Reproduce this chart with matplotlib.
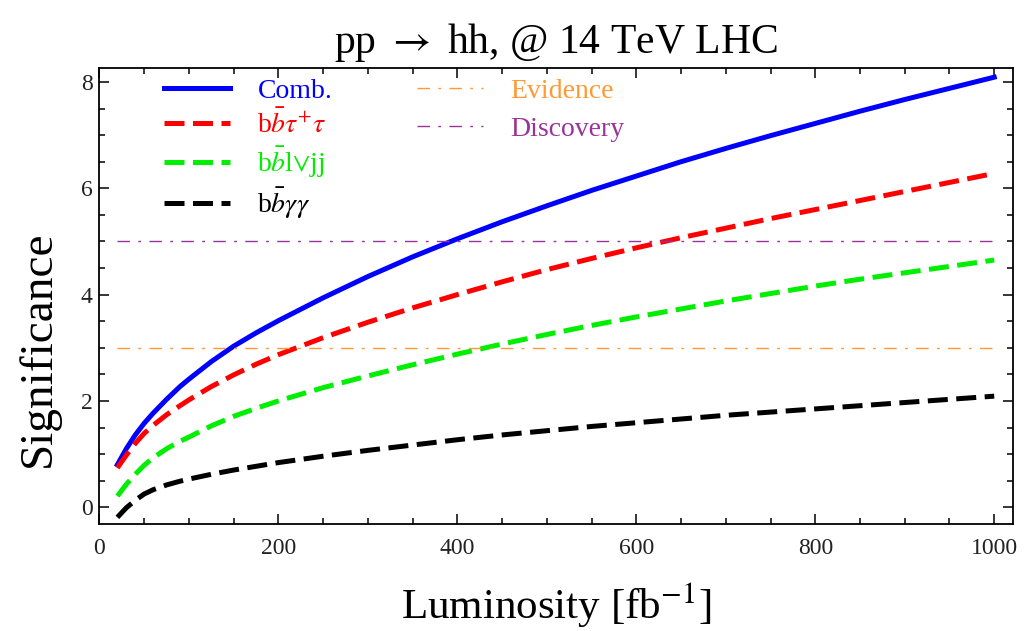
import matplotlib.pyplot as plt
from matplotlib.ticker import MultipleLocator

plt.rcParams['font.family'] = ['Liberation Serif', 'DejaVu Serif']
plt.rcParams['mathtext.fontset'] = 'stix'

# integrated luminosity [fb^-1] and significance of each channel
lumi = [20, 30, 40, 50, 60, 75, 90, 100, 125, 150, 175, 200, 250, 300, 350,
        400, 450, 500, 550, 600, 650, 700, 750, 800, 850, 900, 950, 1000]
sig_comb = [0.80, 1.10, 1.36, 1.58, 1.77, 2.03, 2.27, 2.41, 2.74, 3.03, 3.28,
            3.51, 3.94, 4.34, 4.71, 5.05, 5.37, 5.67, 5.96, 6.23, 6.50, 6.75,
            6.99, 7.22, 7.45, 7.67, 7.88, 8.09]
sig_tautau = [0.74, 0.98, 1.20, 1.39, 1.54, 1.74, 1.91, 2.02, 2.27, 2.49, 2.69,
              2.87, 3.19, 3.48, 3.75, 4.00, 4.24, 4.47, 4.68, 4.88, 5.07, 5.25,
              5.43, 5.60, 5.77, 5.94, 6.11, 6.28]
sig_lvjj = [0.21, 0.43, 0.62, 0.79, 0.93, 1.10, 1.24, 1.32, 1.53, 1.71, 1.86,
            2.00, 2.25, 2.47, 2.68, 2.88, 3.07, 3.25, 3.42, 3.58, 3.73, 3.88,
            4.02, 4.16, 4.29, 4.41, 4.53, 4.65]
sig_gamgam = [-0.19, -0.01, 0.13, 0.25, 0.33, 0.42, 0.49, 0.53, 0.62, 0.70, 0.77,
              0.84, 0.96, 1.07, 1.17, 1.27, 1.36, 1.44, 1.52, 1.59, 1.66, 1.73,
              1.79, 1.85, 1.91, 1.97, 2.03, 2.09]

evidence = 3
discovery = 5
line_range = [20, 1000]

fig = plt.figure(figsize=(10.34, 6.31), dpi=100)
ax = fig.add_axes([0.0962, 0.170, 0.8835, 0.722])

dash = (4.0, 1.7)
l_comb, = ax.plot(lumi, sig_comb, color='#0000ff', lw=3.6, label='Comb.')
l_tt, = ax.plot(lumi, sig_tautau, color='#ff0000', lw=3.6, dashes=dash,
                label=r'b$\bar{b}\tau^{+}\tau$')
l_lv, = ax.plot(lumi, sig_lvjj, color='#00ee00', lw=3.6, dashes=dash,
                label=r'b$\bar{b}$l$\vee$jj')
l_gg, = ax.plot(lumi, sig_gamgam, color='black', lw=3.6, dashes=dash,
                label=r'b$\bar{b}\gamma\gamma$')

dashdot = (0, (9, 6, 2, 6))
l_ev, = ax.plot(line_range, [evidence] * 2, color='#ff9933', lw=1.0,
                linestyle=dashdot, label='Evidence')
l_di, = ax.plot(line_range, [discovery] * 2, color='#993399', lw=1.0,
                linestyle=dashdot, label='Discovery')

ax.set_xlim(0, 1021)
ax.set_ylim(-0.31, 8.26)
ax.xaxis.set_major_locator(MultipleLocator(200))
ax.xaxis.set_minor_locator(MultipleLocator(50))
ax.yaxis.set_major_locator(MultipleLocator(2))
ax.yaxis.set_minor_locator(MultipleLocator(0.5))
ax.tick_params(which='both', direction='in', top=True, right=True,
               labelsize=17, labelcolor='#222222', width=1.1)
ax.tick_params(which='major', length=7.5)
ax.tick_params(which='minor', length=4.5)
ax.tick_params(axis='x', which='major', pad=10)
ax.tick_params(axis='y', which='major', pad=5)
for s in ax.spines.values():
    s.set_linewidth(1.3)

ax.set_title(r'pp $\rightarrow$ hh, @ 14 TeV LHC', fontsize=30, pad=11)
ax.set_xlabel(r'Luminosity [fb$^{-1}$]', fontsize=31, labelpad=16)
ax.set_ylabel('Significance', fontsize=34)
ax.yaxis.set_label_coords(-0.043, 0.385)

leg_opts = dict(loc='upper left', frameon=False, fontsize=20,
                labelcolor='linecolor', handlelength=2.35, handletextpad=1.0,
                labelspacing=0.2, borderpad=0, borderaxespad=0)
leg1 = ax.legend(handles=[l_comb, l_tt, l_lv, l_gg],
                 bbox_to_anchor=(0.071, 0.977), **leg_opts)
ax.add_artist(leg1)
ax.legend(handles=[l_ev, l_di], bbox_to_anchor=(0.348, 0.977),
          **dict(leg_opts, labelspacing=0.45))

fig.savefig('out.png', dpi=100)
